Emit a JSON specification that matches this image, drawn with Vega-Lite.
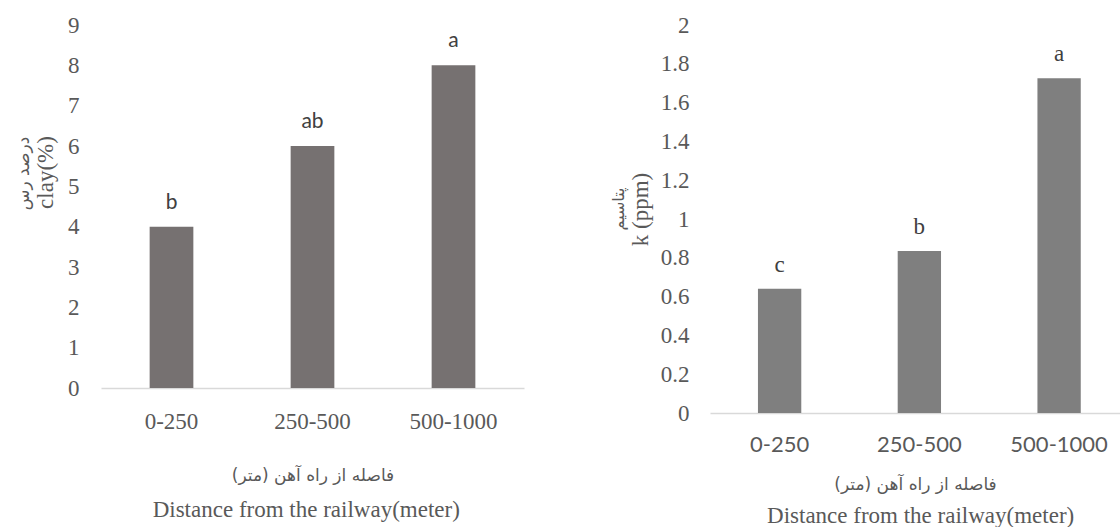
{
  "$schema": "https://vega.github.io/schema/vega-lite/v6.json",
  "background": "white",
  "padding": {"left": 14, "top": 14, "right": 0, "bottom": 0},
  "config": {"view": {"stroke": null}, "concat": {"spacing": 87}},
  "datasets": {
    "clay": [
      {"distance": "0-250", "clay": 4, "letter": "b"},
      {"distance": "250-500", "clay": 6, "letter": "ab"},
      {"distance": "500-1000", "clay": 8, "letter": "a"}
    ],
    "potassium": [
      {"distance": "0-250", "k": 0.64, "letter": "c"},
      {"distance": "250-500", "k": 0.835, "letter": "b"},
      {"distance": "500-1000", "k": 1.725, "letter": "a"}
    ]
  },
  "hconcat": [
    {
      "title": {"text": "Distance from the railway(meter)", "orient": "bottom", "font": "Liberation Serif", "fontSize": 23, "fontWeight": "normal", "color": "#595959", "anchor": "middle", "frame": "bounds", "offset": 16, "dx": 37},
      "vconcat": [
        {
          "width": 423,
          "height": 363,
          "data": {"name": "clay"},
          "title": {"text": "درصد رس", "orient": "left", "font": "DejaVu Sans", "fontSize": 17, "fontWeight": "normal", "color": "#595959", "anchor": "middle", "offset": 2, "dx": 33},
          "encoding": {
            "x": {
              "field": "distance", "type": "nominal", "sort": null,
              "scale": {"paddingInner": 0.69, "paddingOuter": 0.345},
              "axis": {"domain": true, "domainColor": "#d9d9d9", "domainWidth": 1.5, "ticks": false, "tickSize": 0, "labelAngle": 0, "labelFont": "Liberation Serif", "labelFontSize": 23, "labelColor": "#595959", "labelPadding": 22, "title": "فاصله از راه آهن (متر)", "titleFont": "DejaVu Sans", "titleFontSize": 17, "titleFontWeight": "normal", "titleColor": "#595959", "titlePadding": 34}
            },
            "y": {
              "field": "clay", "type": "quantitative",
              "scale": {"domain": [0, 9], "nice": false},
              "axis": {"values": [0, 1, 2, 3, 4, 5, 6, 7, 8, 9], "labelOverlap": false, "domain": false, "ticks": false, "tickSize": 0, "grid": false, "labelFont": "Liberation Serif", "labelFontSize": 23, "labelColor": "#595959", "labelPadding": 22, "title": "clay(%)", "titleFont": "Liberation Serif", "titleFontSize": 23, "titleFontWeight": "normal", "titleColor": "#595959", "titlePadding": 10, "titleY": 147}
            }
          },
          "layer": [
            {
              "mark": {"type": "bar", "color": "#767171"}
            },
            {
              "mark": {"type": "text", "font": "Lato", "fontSize": 21, "color": "#404040", "baseline": "alphabetic", "align": "center", "dy": -18},
              "encoding": {
                "text": {"field": "letter"}
              }
            }
          ]
        }
      ]
    },
    {
      "title": {"text": "Distance from the railway(meter)", "orient": "bottom", "font": "Liberation Serif", "fontSize": 23, "fontWeight": "normal", "color": "#595959", "anchor": "middle", "frame": "bounds", "offset": 13, "dx": 55},
      "vconcat": [
        {
          "width": 410,
          "height": 388,
          "data": {"name": "potassium"},
          "title": {"text": "پتاسیم", "orient": "left", "font": "DejaVu Sans", "fontSize": 16, "fontWeight": "normal", "color": "#595959", "anchor": "middle", "offset": 2, "dx": 10},
          "encoding": {
            "x": {
              "field": "distance", "type": "nominal", "sort": null,
              "scale": {"paddingInner": 0.69, "paddingOuter": 0.312, "align": 0.55},
              "axis": {"domain": true, "domainColor": "#d9d9d9", "domainWidth": 1.5, "ticks": false, "tickSize": 0, "labelAngle": 0, "labelFont": "Lato", "labelFontSize": 22, "labelColor": "#595959", "labelPadding": 21, "title": "فاصله از راه آهن (متر)", "titleFont": "DejaVu Sans", "titleFontSize": 17, "titleFontWeight": "normal", "titleColor": "#595959", "titlePadding": 21}
            },
            "y": {
              "field": "k", "type": "quantitative",
              "scale": {"domain": [0, 2], "nice": false},
              "axis": {"values": [0, 0.2, 0.4, 0.6, 0.8, 1, 1.2, 1.4, 1.6, 1.8, 2], "labelOverlap": false, "format": "~g", "domain": false, "ticks": false, "tickSize": 0, "grid": false, "labelFont": "Liberation Serif", "labelFontSize": 23, "labelColor": "#595959", "labelPadding": 21, "title": "k (ppm)", "titleFont": "Liberation Serif", "titleFontSize": 23, "titleFontWeight": "normal", "titleColor": "#595959", "titlePadding": 8, "titleY": 184}
            }
          },
          "layer": [
            {
              "mark": {"type": "bar", "color": "#7f7f7f"}
            },
            {
              "mark": {"type": "text", "font": "Liberation Serif", "fontSize": 23, "color": "#404040", "baseline": "alphabetic", "align": "center", "dy": -17},
              "encoding": {
                "text": {"field": "letter"}
              }
            }
          ]
        }
      ]
    }
  ]
}
